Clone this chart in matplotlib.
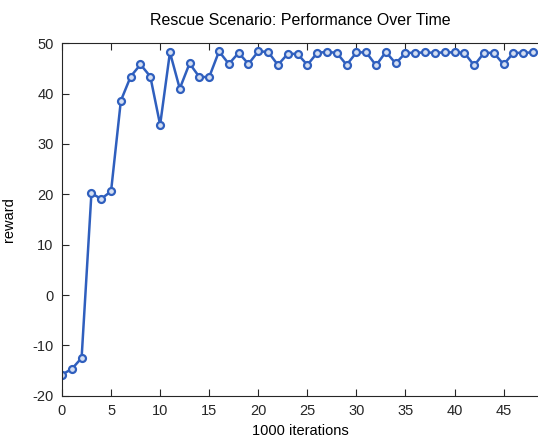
import numpy as np
import matplotlib
matplotlib.use("Agg")
import matplotlib.pyplot as plt

plt.rcParams["font.family"] = ["Liberation Sans", "DejaVu Sans"]
plt.rcParams["axes.unicode_minus"] = False

iterations = list(range(49))
reward = [-15.8, -14.7, -12.5, 20.2, 19.1, 20.6, 38.6, 43.4, 45.8, 43.4,
          33.8, 48.2, 41.0, 46.0, 43.3, 43.3, 48.4, 45.9, 48.1, 45.9,
          48.4, 48.3, 45.7, 47.9, 47.9, 45.7, 48.1, 48.3, 48.1, 45.7,
          48.2, 48.2, 45.6, 48.3, 46.0, 48.1, 48.1, 48.2, 48.1, 48.2,
          48.2, 48.1, 45.6, 48.1, 48.1, 45.8, 48.1, 48.1, 48.2]

fig = plt.figure(figsize=(5.38, 4.37), dpi=100)
ax = fig.add_axes([0.1152, 0.0945, 0.8848, 0.8064])

blue = "#2F5FBE"
ax.plot(iterations, reward, "-", color=blue, linewidth=1.8,
        marker="o", markersize=5, markerfacecolor="#D5DFF2",
        markeredgecolor=blue, markeredgewidth=1.6)

ax.set_xlim(0, 48.5)
ax.set_ylim(-20, 50)
ax.set_xticks(np.arange(0, 50, 5))
ax.set_yticks(np.arange(-20, 51, 10))

ax.tick_params(direction="in", length=5, width=0.8, labelsize=10.5,
               top=True, right=False, colors="#262626", pad=6)
for side in ["left", "bottom", "top"]:
    ax.spines[side].set_color("#262626")
    ax.spines[side].set_linewidth(0.8)
ax.spines["right"].set_visible(False)

ax.set_xlabel("1000 iterations", fontsize=10.5, labelpad=4)
ax.set_ylabel("reward", fontsize=10.5, labelpad=12)
ax.set_title("Rescue Scenario: Performance Over Time", fontsize=11.5, pad=13)

fig.savefig("out.png", dpi=100)
print("Saved: out.png")
